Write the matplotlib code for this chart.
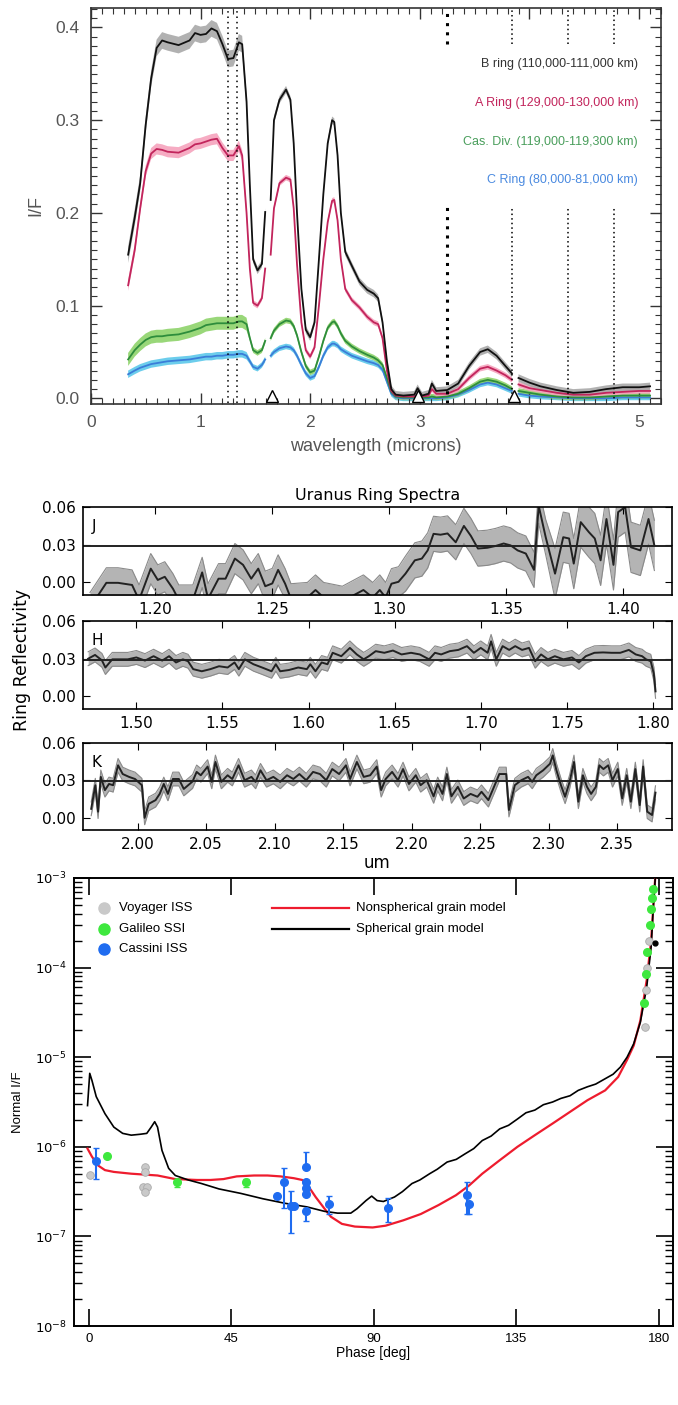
import numpy as np
import matplotlib
matplotlib.use("Agg")
import matplotlib.pyplot as plt
from matplotlib.ticker import MultipleLocator, LogLocator, NullFormatter

nan = np.nan

# ---------------- top panel: Saturn ring spectra ----------------
wl = [0.34, 0.40, 0.45, 0.50, 0.55, 0.60, 0.65, 0.70, 0.80, 0.90, 0.95, 1.00, 1.05, 1.10, 1.15,
      1.20, 1.25, 1.30, 1.35, 1.38, 1.42, 1.45, 1.48, 1.52, 1.56, 1.59, nan,
      1.64, 1.67, 1.72, 1.78, 1.82, 1.85, 1.88, 1.92, 1.96, 2.00, 2.04, 2.08, 2.12, 2.16, 2.20,
      2.22, 2.25, 2.28, 2.32, 2.38, 2.45, 2.52, 2.58, 2.62, 2.66, 2.70, 2.74, 2.78, 2.85, 2.95,
      2.98, 3.02, 3.08, 3.11, 3.15, 3.25, 3.35, 3.45, 3.55, 3.62, 3.70, 3.78, 3.84, nan,
      3.90, 4.00, 4.10, 4.25, 4.40, 4.55, 4.70, 4.85, 5.00, 5.10]

b_ring = [0.155, 0.195, 0.232, 0.295, 0.345, 0.378, 0.386, 0.384, 0.381, 0.386, 0.394, 0.392, 0.393, 0.399, 0.396,
          0.382, 0.366, 0.367, 0.384, 0.382, 0.320, 0.230, 0.150, 0.138, 0.145, 0.201, nan,
          0.214, 0.300, 0.322, 0.333, 0.322, 0.275, 0.200, 0.118, 0.074, 0.066, 0.082, 0.150, 0.220, 0.275, 0.300,
          0.298, 0.262, 0.200, 0.158, 0.143, 0.126, 0.117, 0.113, 0.108, 0.082, 0.040, 0.010, 0.004, 0.003, 0.004,
          0.011, 0.003, 0.005, 0.016, 0.008, 0.009, 0.016, 0.035, 0.050, 0.053, 0.046, 0.035, 0.027, nan,
          0.022, 0.017, 0.013, 0.009, 0.006, 0.007, 0.010, 0.012, 0.012, 0.013]

a_ring = [0.122, 0.160, 0.205, 0.245, 0.264, 0.269, 0.268, 0.266, 0.265, 0.270, 0.274, 0.275, 0.277, 0.279, 0.280,
          0.270, 0.262, 0.262, 0.272, 0.262, 0.200, 0.140, 0.103, 0.100, 0.108, 0.140, nan,
          0.155, 0.205, 0.232, 0.238, 0.236, 0.205, 0.145, 0.082, 0.052, 0.045, 0.055, 0.100, 0.150, 0.190, 0.213,
          0.214, 0.192, 0.150, 0.118, 0.106, 0.098, 0.088, 0.082, 0.080, 0.065, 0.030, 0.008, 0.003, 0.002, 0.002,
          0.004, 0.002, 0.003, 0.010, 0.005, 0.005, 0.010, 0.022, 0.032, 0.034, 0.030, 0.025, 0.020, nan,
          0.015, 0.011, 0.009, 0.006, 0.004, 0.004, 0.006, 0.007, 0.008, 0.008]

cas_div = [0.042, 0.052, 0.058, 0.063, 0.066, 0.067, 0.067, 0.068, 0.069, 0.072, 0.074, 0.076, 0.079, 0.080, 0.081,
           0.081, 0.081, 0.081, 0.083, 0.083, 0.080, 0.065, 0.052, 0.049, 0.052, 0.062, nan,
           0.065, 0.073, 0.080, 0.084, 0.083, 0.078, 0.068, 0.050, 0.035, 0.028, 0.030, 0.045, 0.062, 0.076, 0.082,
           0.083, 0.078, 0.070, 0.062, 0.056, 0.051, 0.047, 0.044, 0.041, 0.036, 0.022, 0.007, 0.002, 0.001, 0.001,
           0.002, 0.001, 0.001, 0.002, 0.001, 0.002, 0.005, 0.011, 0.018, 0.020, 0.018, 0.014, 0.010, nan,
           0.008, 0.006, 0.004, 0.002, 0.001, 0.001, 0.002, 0.003, 0.003, 0.003]

c_ring = [0.026, 0.030, 0.033, 0.035, 0.037, 0.038, 0.039, 0.040, 0.041, 0.042, 0.043, 0.044, 0.045, 0.045, 0.046,
          0.046, 0.047, 0.047, 0.048, 0.048, 0.046, 0.040, 0.034, 0.032, 0.036, 0.042, nan,
          0.046, 0.050, 0.054, 0.056, 0.055, 0.052, 0.046, 0.036, 0.027, 0.022, 0.024, 0.034, 0.046, 0.055, 0.059,
          0.059, 0.057, 0.053, 0.050, 0.046, 0.043, 0.040, 0.038, 0.036, 0.031, 0.018, 0.005, 0.001, 0.000, 0.000,
          0.000, 0.000, 0.000, 0.000, 0.000, 0.001, 0.004, 0.009, 0.015, 0.017, 0.015, 0.011, 0.008, nan,
          0.005, 0.003, 0.002, 0.001, 0.000, 0.000, 0.000, 0.001, 0.001, 0.001]

# band half-widths (visible part, infrared part)
band_err = {"B": (0.009, 0.004), "A": (0.006, 0.003), "Cas": (0.007, 0.003), "C": (0.004, 0.003)}

ring_labels = ["B ring (110,000-111,000 km)", "A Ring (129,000-130,000 km)",
               "Cas. Div. (119,000-119,300 km)", "C Ring (80,000-81,000 km)"]
label_colors = ["#333333", "#c2255c", "#4a9e5c", "#4a8ae0"]
label_y = [0.361, 0.319, 0.277, 0.235]

full_dotted = [1.25, 1.33]
split_dotted = [3.25, 3.84, 4.35, 4.77]
triangle_wl = [1.65, 2.98, 3.86]

# ---------------- middle panel: Uranus ring spectra ----------------
j_wl = [1.172, 1.179, 1.184, 1.190, 1.193, 1.198, 1.201, 1.204, 1.2075, 1.210, 1.216, 1.220, 1.2225, 1.227,
        1.230, 1.234, 1.2375, 1.241, 1.244, 1.247, 1.250, 1.2525, 1.2555, 1.258, 1.265, 1.2685, 1.272, 1.280,
        1.289, 1.293, 1.296, 1.2985, 1.301, 1.304, 1.307, 1.311, 1.314, 1.3165, 1.319, 1.322, 1.325, 1.3285,
        1.332, 1.335, 1.338, 1.342, 1.3455, 1.349, 1.352, 1.355, 1.3585, 1.362, 1.364, 1.367, 1.371, 1.3745,
        1.377, 1.379, 1.382, 1.3855, 1.388, 1.3905, 1.393, 1.396, 1.398, 1.401, 1.4035, 1.4075, 1.411, 1.4135]
j_val = [-0.020, -0.0003, -0.0003, -0.002, -0.014, 0.011, 0.002, 0.0045, -0.005, -0.014, -0.014, 0.008, -0.013,
         0.003, 0.003, 0.019, 0.014, 0.003, 0.011, -0.003, -0.0008, 0.010, -0.001, -0.013, -0.012, -0.006, -0.012,
         -0.015, -0.006, -0.012, -0.006, -0.012, -0.001, 0.0005, 0.007, 0.0176, 0.019, 0.0255, 0.0387, 0.038,
         0.039, 0.032, 0.045, 0.037, 0.027, 0.0276, 0.029, 0.031, 0.0295, 0.0255, 0.023, 0.010, 0.061, 0.036,
         0.007, 0.036, 0.035, 0.015, 0.048, 0.040, 0.035, 0.0176, 0.0505, 0.014, 0.056, 0.060, 0.028, 0.0255,
         0.0505, 0.0295]
j_err = [0.012] * 34 + [0.014] * 20 + [0.020] * 16

h_wl = [1.472, 1.476, 1.480, 1.482, 1.486, 1.495, 1.500, 1.505, 1.510, 1.515, 1.519, 1.523, 1.527, 1.530,
        1.533, 1.538, 1.543, 1.548, 1.553, 1.557, 1.5595, 1.563, 1.568, 1.573, 1.5785, 1.581, 1.5835, 1.5886,
        1.594, 1.599, 1.601, 1.604, 1.6076, 1.611, 1.614, 1.619, 1.624, 1.628, 1.632, 1.635, 1.639, 1.644,
        1.649, 1.654, 1.6595, 1.6646, 1.670, 1.6734, 1.677, 1.682, 1.687, 1.692, 1.696, 1.700, 1.704, 1.706,
        1.709, 1.7127, 1.7165, 1.720, 1.724, 1.728, 1.7316, 1.735, 1.739, 1.743, 1.748, 1.753, 1.757, 1.761,
        1.766, 1.771, 1.776, 1.781, 1.786, 1.790, 1.7937, 1.796, 1.7987, 1.8005, 1.8015]
h_val = [0.030, 0.033, 0.0287, 0.023, 0.0295, 0.0295, 0.031, 0.0285, 0.032, 0.0285, 0.032, 0.027, 0.0295, 0.028,
         0.0217, 0.020, 0.0217, 0.024, 0.023, 0.027, 0.0217, 0.0295, 0.0256, 0.023, 0.020, 0.0256, 0.020, 0.021,
         0.023, 0.0217, 0.0256, 0.020, 0.027, 0.0256, 0.0347, 0.032, 0.0386, 0.0334, 0.0295, 0.032, 0.036, 0.0347,
         0.0365, 0.0334, 0.0347, 0.0334, 0.0295, 0.0347, 0.0334, 0.036, 0.037, 0.040, 0.0347, 0.0386, 0.0347,
         0.0438, 0.0295, 0.040, 0.037, 0.040, 0.037, 0.0386, 0.028, 0.0334, 0.0295, 0.032, 0.0295, 0.031, 0.027,
         0.032, 0.0347, 0.035, 0.0347, 0.0347, 0.037, 0.0334, 0.032, 0.0295, 0.028, 0.018, 0.004]
h_err = 0.0055

k_wl = [1.966, 1.969, 1.971, 1.973, 1.976, 1.979, 1.982, 1.9856, 1.989, 1.9936, 1.998, 2.003, 2.005, 2.008,
        2.013, 2.016, 2.019, 2.022, 2.0256, 2.030, 2.0336, 2.040, 2.043, 2.046, 2.051, 2.054, 2.0567, 2.061,
        2.0656, 2.069, 2.0736, 2.078, 2.083, 2.086, 2.0896, 2.094, 2.099, 2.104, 2.109, 2.1136, 2.118, 2.123,
        2.128, 2.133, 2.1376, 2.142, 2.147, 2.152, 2.155, 2.160, 2.165, 2.1697, 2.1745, 2.1777, 2.181, 2.1857,
        2.190, 2.1937, 2.198, 2.203, 2.2065, 2.211, 2.216, 2.219, 2.2225, 2.2257, 2.229, 2.2337, 2.238, 2.243,
        2.248, 2.251, 2.256, 2.261, 2.264, 2.269, 2.271, 2.2753, 2.280, 2.285, 2.288, 2.291, 2.296, 2.301,
        2.303, 2.3057, 2.309, 2.312, 2.3153, 2.3185, 2.3217, 2.325, 2.328, 2.331, 2.3345, 2.337, 2.340,
        2.3435, 2.3466, 2.3505, 2.3537, 2.357, 2.360, 2.3633, 2.3665, 2.369, 2.372, 2.3755, 2.378]
k_val = [0.007, 0.026, 0.0047, 0.0327, 0.022, 0.027, 0.026, 0.042, 0.035, 0.0327, 0.031, 0.026, -0.0003, 0.011,
         0.014, 0.019, 0.027, 0.019, 0.031, 0.031, 0.023, 0.029, 0.0367, 0.034, 0.041, 0.0287, 0.0447, 0.0287,
         0.034, 0.031, 0.042, 0.030, 0.0327, 0.0287, 0.038, 0.030, 0.0327, 0.0287, 0.034, 0.031, 0.035, 0.030,
         0.0367, 0.035, 0.030, 0.039, 0.035, 0.042, 0.031, 0.0447, 0.0327, 0.034, 0.041, 0.022, 0.031, 0.0367,
         0.030, 0.039, 0.027, 0.034, 0.026, 0.030, 0.017, 0.027, 0.019, 0.035, 0.017, 0.0247, 0.0153, 0.019,
         0.0167, 0.0207, 0.014, 0.027, 0.035, 0.035, 0.006, 0.026, 0.030, 0.0327, 0.0287, 0.034, 0.038, 0.0433,
         0.050, 0.038, 0.026, 0.0167, 0.0287, 0.0447, 0.0127, 0.034, 0.0247, 0.019, 0.0247, 0.042, 0.039,
         0.042, 0.030, 0.039, 0.0153, 0.034, 0.0127, 0.039, 0.010, 0.041, 0.0047, 0.002, 0.020]
k_err = 0.0055

ref_level = 0.029

# ---------------- bottom panel: phase curve ----------------
nonsph_phase = [-0.4, 1.0, 3.0, 5.1, 7.9, 13.4, 17.6, 21.7, 27.3, 34.2, 38.4, 42.5, 46.7, 52.2, 56.4, 60.5,
                64.7, 67.4, 69.5, 71.6, 74.4, 76.4, 79.9, 84.0, 89.6, 93.7, 99.3, 104.8, 110.4, 115.9, 120.1,
                124.2, 129.7, 135.3, 140.8, 146.4, 151.9, 157.4, 163.0, 167.1, 169.9, 172.0, 174.1, 176.1,
                177.5, 178.5, 178.9]
nonsph_logif = [-6.02, -6.11, -6.21, -6.26, -6.28, -6.30, -6.31, -6.32, -6.36, -6.37, -6.37, -6.36, -6.33,
                -6.32, -6.32, -6.33, -6.35, -6.37, -6.45, -6.56, -6.69, -6.78, -6.86, -6.89, -6.90, -6.88,
                -6.82, -6.75, -6.65, -6.54, -6.43, -6.30, -6.15, -6.00, -5.87, -5.74, -5.61, -5.48, -5.37,
                -5.22, -5.03, -4.87, -4.59, -4.14, -3.70, -3.14, -2.95]

sph_phase = [-0.4, 0.3, 1.0, 2.35, 5.1, 7.9, 10.7, 13.4, 16.2, 18.3, 19.7, 20.8, 21.7, 23.1, 25.2, 27.3,
             31.4, 35.6, 41.1, 48.0, 55.0, 61.9, 68.8, 74.4, 78.5, 82.7, 84.7, 87.5, 89.3, 91.0, 93.0, 96.5,
             99.0, 102.0, 104.5, 107.6, 110.0, 113.1, 116.0, 118.7, 121.5, 124.2, 127.0, 129.7, 132.5, 135.3,
             138.0, 140.8, 143.5, 146.4, 149.0, 151.9, 154.5, 157.4, 160.0, 163.0, 165.5, 167.8, 169.9, 172.0,
             174.1, 176.1, 177.5, 178.2, 178.9]
sph_logif = [-5.54, -5.18, -5.26, -5.44, -5.63, -5.78, -5.85, -5.87, -5.86, -5.85, -5.78, -5.72, -5.78, -6.04,
             -6.24, -6.32, -6.37, -6.41, -6.47, -6.52, -6.58, -6.63, -6.67, -6.72, -6.74, -6.74, -6.69, -6.60,
             -6.55, -6.60, -6.61, -6.56, -6.50, -6.41, -6.37, -6.30, -6.25, -6.17, -6.14, -6.08, -6.02, -5.93,
             -5.88, -5.80, -5.76, -5.69, -5.62, -5.59, -5.53, -5.50, -5.46, -5.43, -5.37, -5.33, -5.30, -5.24,
             -5.19, -5.11, -5.00, -4.85, -4.61, -4.22, -3.77, -3.32, -2.95]

voyager_phase = [0.3, 17.6, 17.6, 17.0, 18.5, 17.8, 175.5, 175.9, 176.3, 176.8]
voyager_if = [4.8e-7, 6.0e-7, 5.3e-7, 3.6e-7, 3.6e-7, 3.1e-7, 2.2e-5, 5.6e-5, 1.0e-4, 2.0e-4]

galileo_phase = [5.6, 27.7, 49.5, 175.3, 175.8, 176.3, 177.0, 177.4, 177.8, 178.2]
galileo_if = [7.9e-7, 4.0e-7, 4.0e-7, 4.0e-5, 8.5e-5, 1.5e-4, 3.0e-4, 4.5e-4, 6.0e-4, 7.5e-4]
galileo_lo = [7.9e-7, 3.6e-7, 3.6e-7, 4.0e-5, 8.5e-5, 1.5e-4, 3.0e-4, 4.5e-4, 6.0e-4, 7.5e-4]
galileo_hi = [7.9e-7, 4.4e-7, 4.4e-7, 4.0e-5, 8.5e-5, 1.5e-4, 3.0e-4, 4.5e-4, 6.0e-4, 7.5e-4]

cassini_phase = [2.2, 59.4, 61.7, 63.7, 64.8, 68.5, 68.5, 68.5, 68.5, 68.5, 75.8, 94.5, 119.3, 120.1]
cassini_if = [6.9e-7, 2.8e-7, 4.0e-7, 2.2e-7, 2.2e-7, 6.0e-7, 4.0e-7, 3.5e-7, 3.0e-7, 1.9e-7, 2.3e-7,
              2.1e-7, 2.9e-7, 2.3e-7]
cassini_lo = [4.4e-7, 2.8e-7, 2.1e-7, 1.1e-7, 2.2e-7, 6.0e-7, 4.0e-7, 3.5e-7, 3.0e-7, 1.5e-7, 1.8e-7,
              1.45e-7, 1.8e-7, 1.8e-7]
cassini_hi = [9.8e-7, 2.8e-7, 5.8e-7, 3.2e-7, 2.2e-7, 8.8e-7, 4.0e-7, 3.5e-7, 3.0e-7, 1.9e-7, 2.8e-7,
              2.7e-7, 4.1e-7, 2.3e-7]

helv = "Liberation Sans"
fig = plt.figure(figsize=(6.78, 14.05), dpi=100)

# ======== top ========
ax1 = fig.add_axes([0.134, 0.7125, 0.841, 0.2818])
wl_a = np.array(wl)
rings = [
    (b_ring, "B", "#111111", "#a9a9a9"),
    (a_ring, "A", "#c2255c", "#f5a3bd"),
    (cas_div, "Cas", "#2e8d3c", "#8ed36a"),
    (c_ring, "C", "#3b7dd8", "#5cc8ea"),
]
for vals, key, lc, bc in rings[::-1]:
    v = np.array(vals)
    e = np.where(wl_a < 1.45, band_err[key][0], band_err[key][1])
    ax1.fill_between(wl_a, v - e, v + e, color=bc, lw=0, alpha=0.9)
for vals, key, lc, bc in rings[::-1]:
    ax1.plot(wl_a, vals, color=lc, lw=1.3)

for x in full_dotted:
    ax1.plot([x, x], [-0.005, 0.42], color="black", ls=(0, (1, 2.5)), lw=1.1)
for x in split_dotted:
    lw = 2.2 if x == split_dotted[0] else 1.1
    ax1.plot([x, x], [0.382, 0.42], color="black", ls=(0, (1, 2)), lw=lw)
    ax1.plot([x, x], [-0.005, 0.207], color="black", ls=(0, (1, 2)), lw=lw)
ax1.plot(triangle_wl, [0.003] * len(triangle_wl), ls="none", marker="^", ms=8,
         mfc="white", mec="black", mew=1.0)

for lab, col, y in zip(ring_labels, label_colors, label_y):
    ax1.text(4.99, y, lab, ha="right", va="center", color=col, fontsize=9, family=helv)

ax1.set_xlim(0, 5.2)
ax1.set_ylim(-0.006, 0.421)
ax1.xaxis.set_major_locator(MultipleLocator(1))
ax1.xaxis.set_minor_locator(MultipleLocator(0.1))
ax1.yaxis.set_major_locator(MultipleLocator(0.1))
ax1.yaxis.set_minor_locator(MultipleLocator(0.01))
ax1.yaxis.set_major_formatter(matplotlib.ticker.FormatStrFormatter("%.1f"))
ax1.tick_params(which="both", direction="in", top=True, right=True, colors="#333333",
                labelcolor="#555555", labelsize=12.5)
ax1.tick_params(which="major", length=8, width=1.0, pad=8)
ax1.tick_params(which="minor", length=4, width=0.8)
for lbl in ax1.get_xticklabels() + ax1.get_yticklabels():
    lbl.set_family(helv)
ax1.set_xlabel("wavelength (microns)", fontsize=13, color="#555555", family=helv, labelpad=6)
ax1.set_ylabel("I/F", fontsize=13, color="#555555", family=helv, labelpad=8)
for s in ax1.spines.values():
    s.set_linewidth(1.2)
    s.set_color("#333333")

# ======== middle ========
mid_rows = [
    ("J", j_wl, j_val, j_err, [0.1224, 0.5765, 0.8686, 0.0626], (1.169, 1.421), [1.20, 1.25, 1.30, 1.35, 1.40]),
    ("H", h_wl, h_val, h_err, [0.1224, 0.4954, 0.8686, 0.0626], (1.469, 1.811),
     [1.50, 1.55, 1.60, 1.65, 1.70, 1.75, 1.80]),
    ("K", k_wl, k_val, k_err, [0.1224, 0.4093, 0.8686, 0.0619], (1.960, 2.390),
     [2.00, 2.05, 2.10, 2.15, 2.20, 2.25, 2.30, 2.35]),
]
mid_axes = []
for name, xs, ys, err, rect, xl, xt in mid_rows:
    ax = fig.add_axes(rect)
    xs = np.array(xs)
    ys = np.array(ys)
    err = np.array(err) if np.ndim(err) else np.full(len(xs), err)
    ax.fill_between(xs, ys - err, ys + err, color="#b4b4b4", lw=0)
    ax.plot(xs, ys - err, color="#8a8a8a", lw=0.8)
    ax.plot(xs, ys + err, color="#8a8a8a", lw=0.8)
    ax.plot(xs, ys, color="#222222", lw=1.4)
    ax.axhline(ref_level, color="#222222", lw=1.4)
    ax.set_xlim(*xl)
    ax.set_ylim(-0.01, 0.06)
    ax.set_xticks(xt)
    ax.set_xticklabels(["%.2f" % t for t in xt])
    ax.set_yticks([0.0, 0.03, 0.06])
    ax.set_yticklabels(["0.00", "0.03", "0.06"])
    ax.tick_params(direction="in", top=True, right=True, labelsize=11, length=5, pad=5)
    ax.text(0.015, 0.78, name, transform=ax.transAxes, fontsize=11, va="center")
    for s in ax.spines.values():
        s.set_linewidth(1.2)
    mid_axes.append(ax)
mid_axes[0].set_title("Uranus Ring Spectra", fontsize=11.5, pad=5)
fig.text(0.032, 0.530, "Ring Reflectivity", rotation=90, ha="center", va="center", fontsize=12.5)
fig.text(0.556, 0.386, "um", ha="center", va="center", fontsize=12)

# ======== bottom ========
ax3 = fig.add_axes([0.109, 0.0562, 0.8836, 0.3189])
ax3.set_yscale("log")
ax3.plot(nonsph_phase, 10 ** np.array(nonsph_logif), color="#ee1c2e", lw=1.6, zorder=3)
ax3.plot(sph_phase, 10 ** np.array(sph_logif), color="black", lw=1.2, zorder=3)

ax3.plot(voyager_phase, voyager_if, ls="none", marker="o", ms=5.5, mfc="#c9c9c9", mec="#aaaaaa",
         mew=0.6, zorder=4)
g_if = np.array(galileo_if)
ax3.errorbar(galileo_phase, g_if, yerr=[g_if - np.array(galileo_lo), np.array(galileo_hi) - g_if],
             fmt="o", ms=5.5, color="#3ee83e", ecolor="#3ee83e", elinewidth=1.3, capsize=2, zorder=4)
c_if = np.array(cassini_if)
ax3.errorbar(cassini_phase, c_if, yerr=[c_if - np.array(cassini_lo), np.array(cassini_hi) - c_if],
             fmt="o", ms=5.5, color="#1f6cf0", ecolor="#1f6cf0", elinewidth=1.5, capsize=2.5, zorder=5)
ax3.plot([178.6], [1.9e-4], ls="none", marker="o", ms=3.5, color="black", zorder=6)

# legend, drawn by hand like the original
legend_pts = [("Voyager ISS", "#c9c9c9", 4.6e-4), ("Galileo SSI", "#3ee83e", 2.72e-4),
              ("Cassini ISS", "#1f6cf0", 1.62e-4)]
for lab, col, y in legend_pts:
    ax3.plot([4.8], [y], ls="none", marker="o", ms=8, color=col)
    ax3.text(9.6, y, lab, va="center", fontsize=9.5, family=helv)
legend_lines = [("Nonspherical grain model", "#ee1c2e", 4.6e-4), ("Spherical grain model", "black", 2.72e-4)]
for lab, col, y in legend_lines:
    ax3.plot([57.7, 82.0], [y, y], color=col, lw=1.6)
    ax3.text(84.3, y, lab, va="center", fontsize=9.5, family=helv)

ax3.set_xlim(-4.7, 184.4)
ax3.set_ylim(1e-8, 1e-3)
ax3.set_xticks([0, 45, 90, 135, 180])
ax3.yaxis.set_major_locator(LogLocator(base=10, numticks=10))
ax3.yaxis.set_minor_locator(LogLocator(base=10, subs=np.arange(2, 10), numticks=10))
ax3.yaxis.set_minor_formatter(NullFormatter())
ax3.tick_params(which="both", direction="in", top=True, right=True, labelsize=9.5)
ax3.tick_params(which="major", length=12, width=1.2, pad=5)
ax3.tick_params(which="minor", length=6, width=1.0)
for lbl in ax3.get_xticklabels():
    lbl.set_family(helv)
ax3.set_xlabel("Phase [deg]", fontsize=10, family=helv, labelpad=1)
ax3.set_ylabel("Normal I/F", fontsize=9.5, family=helv, labelpad=8)
for s in ax3.spines.values():
    s.set_linewidth(1.4)

fig.savefig("out.png", dpi=100)
